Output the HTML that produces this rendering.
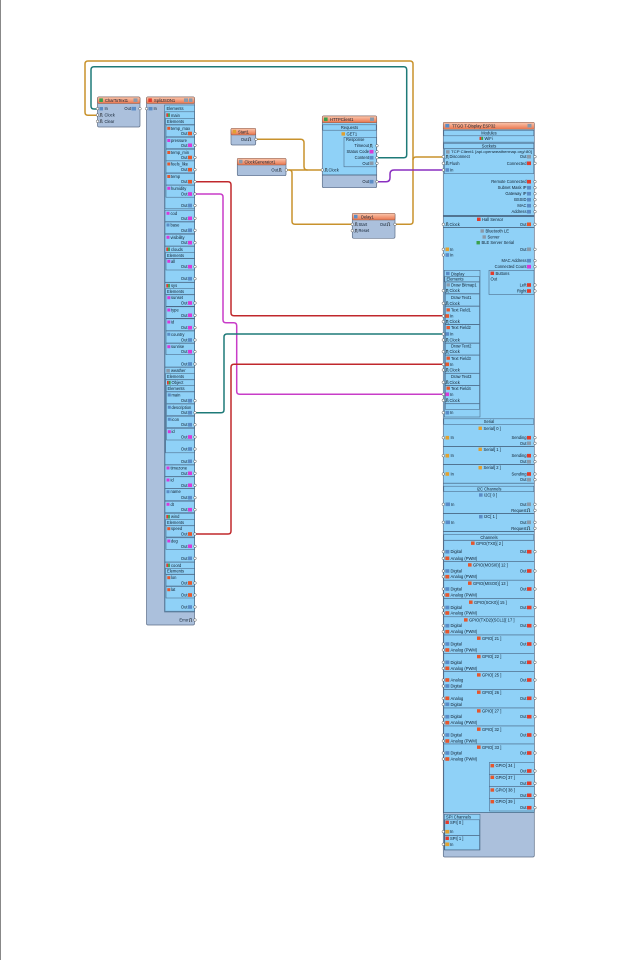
<!DOCTYPE html>
<html><head><meta charset="utf-8">
<style>
html,body{margin:0;padding:0;background:#fff;width:632px;height:960px;overflow:hidden}
svg{display:block}
text{font-family:"Liberation Sans",sans-serif;font-size:4.1px;fill:#0f1e2e}
.r{text-anchor:end}.c{text-anchor:middle}
.b{fill:#abc0dc;stroke:#5d6e88;stroke-width:.7}
.h{fill:url(#hd);stroke:#8a5c4c;stroke-width:.5}
.lb{fill:#8fd1f7;stroke:#4a6684;stroke-width:.55}
.p{fill:#fff;stroke:#444;stroke-width:.45}
.w{fill:none;stroke-width:1.5;stroke-linejoin:round}
.ia{fill:#e4572e}.ii{fill:#d83ad8}.it{fill:#5b8cc6}.ig{fill:#8a99aa}.ir{fill:#e23c2c}.io{fill:#3aa04a}.iy{fill:#e0a030}
.ck{fill:none;stroke:#111;stroke-width:.45}
.ln{stroke:#3d5570;stroke-width:.7}
</style></head><body>
<svg width="632" height="960" viewBox="0 0 632 960" xmlns="http://www.w3.org/2000/svg">
<defs>
<linearGradient id="hd" x1="0" y1="0" x2="0" y2="1"><stop offset="0" stop-color="#fbc9b0"/><stop offset="1" stop-color="#e9744c"/></linearGradient>
</defs>
<rect x="0" y="0" width="632" height="960" fill="#fff"/>
<line x1="0.5" y1="0" x2="0.5" y2="960" stroke="#888" stroke-width="1"/>

<!-- WIRES -->
<path class="w" stroke="#c8922c" d="M396 224.3 H410 Q413 224.3 413 221.3 V64 Q413 61 410 61 H88 Q85 61 85 64 V112.3 Q85 115.3 88 115.3 H97"/>
<path class="w" stroke="#c8922c" d="M413 160 Q413 157 416 157 H443"/>
<path class="w" stroke="#1e7a78" d="M377 157.7 H403.7 Q406.7 157.7 406.7 154.7 V69.7 Q406.7 66.7 403.7 66.7 H94 Q91 66.7 91 69.7 V106 Q91 109 94 109 H97"/>
<path class="w" stroke="#8a2fc0" d="M377 181.7 H386 Q390 181.7 390 177.7 V174 Q390 170 394 170 H443"/>
<path class="w" stroke="#c8922c" d="M256 139.3 H300.5 Q304 139.3 304 142.8 V166.5 Q304 170 307.5 170"/>
<path class="w" stroke="#c8922c" d="M286 170 H322"/>
<path class="w" stroke="#c8922c" d="M289 170 Q292 170 292 173 V221.3 Q292 224.3 295 224.3 H352"/>
<path class="w" stroke="#c0282c" d="M195 181.7 H228 Q231 181.7 231 184.7 V312.7 Q231 315.7 234 315.7 H443"/>
<path class="w" stroke="#c83cc8" d="M195 194 H220 Q223 194 223 197 V319.7 Q223 322.7 226 322.7 H233.7 Q236.7 322.7 236.7 325.7 V391.3 Q236.7 394.3 239.7 394.3 H443"/>
<path class="w" stroke="#1e7a78" d="M195 412.7 H221 Q224 412.7 224 409.7 V337 Q224 334 227 334 H443"/>
<path class="w" stroke="#c0282c" d="M195 534 H228 Q231 534 231 531 V367.3 Q231 364.3 234 364.3 H443"/>

<!-- CharToText1 -->
<rect class="b" x="97.5" y="97" width="42.5" height="30" rx="1.5"/>
<rect class="h" x="97.5" y="97" width="42.5" height="6.5" rx="1"/>
<rect class="io" x="99.3" y="98.4" width="3.6" height="3.6"/>
<text x="105" y="101.9">CharToText1</text>
<rect class="ig" x="133.5" y="98.4" width="4" height="3.6"/>
<rect class="it" x="99.5" y="107" width="3.5" height="3.4"/><text x="104.5" y="110.2">In</text>
<path class="ck" d="M99.5 116.5h.8v-3h1.6v3h.8"/><text x="104.5" y="116.5">Clock</text>
<path class="ck" d="M99.5 122.8h.8v-3h1.6v3h.8"/><text x="104.5" y="122.8">Clear</text>
<text class="r" x="131" y="110.2">Out</text><rect class="it" x="131.5" y="106.9" width="4.5" height="3.6"/>
<circle class="p" cx="97.5" cy="108.7" r="1.3"/><circle class="p" cx="97.5" cy="115" r="1.3"/><circle class="p" cx="97.5" cy="121.3" r="1.3"/><circle class="p" cx="140" cy="108.7" r="1.3"/>

<!-- SplitJSON1 -->
<rect class="b" x="146.5" y="97" width="48" height="528" rx="1.5"/>
<rect class="h" x="146.5" y="97" width="48" height="6.5" rx="1"/>
<rect class="ir" x="148.3" y="98.4" width="3.6" height="3.6"/>
<text x="154" y="101.9">SplitJSON1</text>
<rect class="ig" x="184" y="98.4" width="4" height="3.6"/><rect class="ig" x="189" y="98.4" width="3.5" height="3.6"/>
<rect class="it" x="148.5" y="107" width="4" height="3.4"/><text x="153.5" y="110.2">In</text>
<circle class="p" cx="146.5" cy="108.7" r="1.3"/>
<rect class="lb" x="164.5" y="105" width="30" height="507"/>
<text x="166.5" y="109.8">Elements</text>

<!-- main group -->
<rect class="lb" x="165" y="111.8" width="29.5" height="97"/>
<rect class="ir" x="166.3" y="113.3" width="1.8" height="3.6"/><rect class="io" x="168.1" y="113.3" width="1.8" height="3.6"/>
<text x="171" y="116.8">main</text>
<rect class="lb" x="165.5" y="118.5" width="29" height="6"/><text x="167" y="122.9">Elements</text>

<rect class="lb" x="166" y="125" width="28.5" height="11.8"/><rect class="ia" x="167.3" y="126.8" width="3" height="3"/><text x="171" y="129.8">temp_max</text><text class="r" x="187.5" y="135">Out</text><rect class="ia" x="188" y="131.7" width="4" height="3.6"/><circle class="p" cx="195" cy="133.5" r="1.3"/>
<rect class="lb" x="166" y="137.2" width="28.5" height="11.4"/><rect class="ii" x="167.3" y="139" width="3" height="3"/><text x="171" y="142">pressure</text><text class="r" x="187.5" y="146.8">Out</text><rect class="ii" x="188" y="143.5" width="4" height="3.6"/><circle class="p" cx="195" cy="145.3" r="1.3"/>
<rect class="lb" x="166" y="149.2" width="28.5" height="11.6"/><rect class="ia" x="167.3" y="151" width="3" height="3"/><text x="171" y="154">temp_min</text><text class="r" x="187.5" y="159">Out</text><rect class="ia" x="188" y="155.7" width="4" height="3.6"/><circle class="p" cx="195" cy="157.5" r="1.3"/>
<rect class="lb" x="166" y="160.9" width="28.5" height="12"/><rect class="ia" x="167.3" y="162.5" width="3" height="3"/><text x="171" y="165.5">feels_like</text><text class="r" x="187.5" y="171.2">Out</text><rect class="ia" x="188" y="167.9" width="4" height="3.6"/><circle class="p" cx="195" cy="169.7" r="1.3"/>
<rect class="lb" x="166" y="173.3" width="28.5" height="11.7"/><rect class="ia" x="167.3" y="175" width="3" height="3"/><text x="171" y="178">temp</text><text class="r" x="187.5" y="183.2">Out</text><rect class="ia" x="188" y="179.9" width="4" height="3.6"/><circle class="p" cx="195" cy="181.7" r="1.3"/>
<rect class="lb" x="166" y="185.2" width="28.5" height="12"/><rect class="ii" x="167.3" y="186.8" width="3" height="3"/><text x="171" y="189.8">humidity</text><text class="r" x="187.5" y="195.5">Out</text><rect class="ii" x="188" y="192.2" width="4" height="3.6"/><circle class="p" cx="195" cy="194" r="1.3"/>
<text class="r" x="187.5" y="207">Out</text><rect class="it" x="188" y="203.7" width="4" height="3.6"/><circle class="p" cx="195" cy="205.5" r="1.3"/>

<rect class="lb" x="165" y="210.2" width="29.5" height="11.4"/><rect class="ii" x="166.5" y="211.8" width="3" height="3"/><text x="170.5" y="214.8">cod</text><text class="r" x="187.5" y="219.8">Out</text><rect class="ii" x="188" y="216.5" width="4" height="3.6"/><circle class="p" cx="195" cy="218.3" r="1.3"/>
<rect class="lb" x="165" y="222" width="29.5" height="11.6"/><rect class="it" x="166.5" y="223.5" width="3" height="3"/><text x="170.5" y="226.5">base</text><text class="r" x="187.5" y="231.8">Out</text><rect class="it" x="188" y="228.5" width="4" height="3.6"/><circle class="p" cx="195" cy="230.3" r="1.3"/>
<rect class="lb" x="165" y="234.2" width="29.5" height="11.8"/><rect class="ii" x="166.5" y="235.8" width="3" height="3"/><text x="170.5" y="238.8">visibility</text><text class="r" x="187.5" y="244.2">Out</text><rect class="ii" x="188" y="240.9" width="4" height="3.6"/><circle class="p" cx="195" cy="242.7" r="1.3"/>

<!-- clouds -->
<rect class="lb" x="165" y="246.3" width="29.5" height="35.9"/>
<rect class="ir" x="166.3" y="247.5" width="1.8" height="3.6"/><rect class="io" x="168.1" y="247.5" width="1.8" height="3.6"/><text x="171" y="250.8">clouds</text>
<rect class="lb" x="165.5" y="252.5" width="29" height="5.8"/><text x="167" y="256.8">Elements</text>
<rect class="lb" x="166" y="258.6" width="28.5" height="11.4"/><rect class="ii" x="167.3" y="259.8" width="3" height="3"/><text x="171" y="262.8">all</text><text class="r" x="187.5" y="268.2">Out</text><rect class="ii" x="188" y="264.9" width="4" height="3.6"/><circle class="p" cx="195" cy="266.7" r="1.3"/>
<text class="r" x="187.5" y="280.2">Out</text><rect class="it" x="188" y="276.9" width="4" height="3.6"/><circle class="p" cx="195" cy="278.7" r="1.3"/>

<!-- sys -->
<rect class="lb" x="165" y="282.5" width="29.5" height="84.5"/>
<rect class="ir" x="166.3" y="283.9" width="1.8" height="3.6"/><rect class="io" x="168.1" y="283.9" width="1.8" height="3.6"/><text x="171" y="287.2">sys</text>
<rect class="lb" x="165.5" y="288.7" width="29" height="5.8"/><text x="167" y="293">Elements</text>
<rect class="lb" x="166" y="294.8" width="28.5" height="11.5"/><rect class="ii" x="167.3" y="296.2" width="3" height="3"/><text x="171" y="299.2">sunset</text><text class="r" x="187.5" y="304.5">Out</text><rect class="ii" x="188" y="301.2" width="4" height="3.6"/><circle class="p" cx="195" cy="303" r="1.3"/>
<rect class="lb" x="166" y="306.8" width="28.5" height="11.5"/><rect class="ii" x="167.3" y="308.5" width="3" height="3"/><text x="171" y="311.5">type</text><text class="r" x="187.5" y="316.8">Out</text><rect class="ii" x="188" y="313.5" width="4" height="3.6"/><circle class="p" cx="195" cy="315.3" r="1.3"/>
<rect class="lb" x="166" y="318.8" width="28.5" height="11.9"/><rect class="ii" x="167.3" y="320.5" width="3" height="3"/><text x="171" y="323.5">id</text><text class="r" x="187.5" y="329.2">Out</text><rect class="ii" x="188" y="325.9" width="4" height="3.6"/><circle class="p" cx="195" cy="327.7" r="1.3"/>
<rect class="lb" x="166" y="331" width="28.5" height="12"/><rect class="it" x="167.3" y="332.8" width="3" height="3"/><text x="171" y="335.8">country</text><text class="r" x="187.5" y="341.5">Out</text><rect class="it" x="188" y="338.2" width="4" height="3.6"/><circle class="p" cx="195" cy="340" r="1.3"/>
<rect class="lb" x="166" y="343.4" width="28.5" height="11.3"/><rect class="ii" x="167.3" y="345.2" width="3" height="3"/><text x="171" y="348.2">sunrise</text><text class="r" x="187.5" y="353.2">Out</text><rect class="ii" x="188" y="349.9" width="4" height="3.6"/><circle class="p" cx="195" cy="351.7" r="1.3"/>
<text class="r" x="187.5" y="365.5">Out</text><rect class="it" x="188" y="362.2" width="4" height="3.6"/><circle class="p" cx="195" cy="364" r="1.3"/>

<!-- weather -->
<rect class="lb" x="165" y="367.3" width="29.5" height="97.4"/>
<rect class="ig" x="166.3" y="368.9" width="3.6" height="3.6"/><text x="171" y="372.2">weather</text>
<rect class="lb" x="165.5" y="373.7" width="29" height="5.9"/><text x="167" y="378">Elements</text>
<rect class="lb" x="165.7" y="379.8" width="28.8" height="73"/>
<rect class="ir" x="167" y="380.9" width="1.8" height="3.6"/><rect class="io" x="168.8" y="380.9" width="1.8" height="3.6"/><text x="171.5" y="384.2">Object</text>
<rect class="lb" x="166.2" y="385.7" width="28.3" height="5.9"/><text x="167.5" y="390">Elements</text>
<rect class="lb" x="166.5" y="391.9" width="28" height="11.8"/><rect class="it" x="167.8" y="393.5" width="3" height="3"/><text x="171.5" y="396.5">main</text><text class="r" x="187.5" y="402.2">Out</text><rect class="it" x="188" y="398.9" width="4" height="3.6"/><circle class="p" cx="195" cy="400.7" r="1.3"/>
<rect class="lb" x="166.5" y="404" width="28" height="11.7"/><rect class="it" x="167.8" y="405.8" width="3" height="3"/><text x="171.5" y="408.8">description</text><text class="r" x="187.5" y="414.2">Out</text><rect class="it" x="188" y="410.9" width="4" height="3.6"/><circle class="p" cx="195" cy="412.7" r="1.3"/>
<rect class="lb" x="166.5" y="416.2" width="28" height="11.5"/><rect class="it" x="167.8" y="417.8" width="3" height="3"/><text x="171.5" y="420.8">icon</text><text class="r" x="187.5" y="426.2">Out</text><rect class="it" x="188" y="422.9" width="4" height="3.6"/><circle class="p" cx="195" cy="424.7" r="1.3"/>
<rect class="lb" x="166.5" y="428.3" width="28" height="11.7"/><rect class="ii" x="167.8" y="430.2" width="3" height="3"/><text x="171.5" y="433.2">id</text><text class="r" x="187.5" y="438.5">Out</text><rect class="ii" x="188" y="435.2" width="4" height="3.6"/><circle class="p" cx="195" cy="437" r="1.3"/>
<text class="r" x="187.5" y="450.5">Out</text><rect class="it" x="188" y="447.2" width="4" height="3.6"/><circle class="p" cx="195" cy="449" r="1.3"/>
<text class="r" x="187.5" y="462.8">Out</text><rect class="it" x="188" y="459.5" width="4" height="3.6"/><circle class="p" cx="195" cy="461.3" r="1.3"/>

<rect class="lb" x="165" y="465" width="29.5" height="11.5"/><rect class="ii" x="166.5" y="466.5" width="3" height="3"/><text x="170.5" y="469.5">timezone</text><text class="r" x="187.5" y="474.8">Out</text><rect class="ii" x="188" y="471.5" width="4" height="3.6"/><circle class="p" cx="195" cy="473.3" r="1.3"/>
<rect class="lb" x="165" y="476.8" width="29.5" height="11.7"/><rect class="ii" x="166.5" y="478.5" width="3" height="3"/><text x="170.5" y="481.5">id</text><text class="r" x="187.5" y="486.8">Out</text><rect class="ii" x="188" y="483.5" width="4" height="3.6"/><circle class="p" cx="195" cy="485.3" r="1.3"/>
<rect class="lb" x="165" y="488.7" width="29.5" height="12"/><rect class="it" x="166.5" y="490.2" width="3" height="3"/><text x="170.5" y="493.2">name</text><text class="r" x="187.5" y="499.2">Out</text><rect class="it" x="188" y="495.9" width="4" height="3.6"/><circle class="p" cx="195" cy="497.7" r="1.3"/>
<rect class="lb" x="165" y="501.2" width="29.5" height="11.5"/><rect class="ii" x="166.5" y="502.8" width="3" height="3"/><text x="170.5" y="505.8">dt</text><text class="r" x="187.5" y="511.2">Out</text><rect class="ii" x="188" y="507.9" width="4" height="3.6"/><circle class="p" cx="195" cy="509.7" r="1.3"/>

<!-- wind -->
<rect class="lb" x="165" y="513.4" width="29.5" height="48.6"/>
<rect class="ir" x="166.3" y="514.9" width="1.8" height="3.6"/><rect class="io" x="168.1" y="514.9" width="1.8" height="3.6"/><text x="171" y="518.2">wind</text>
<rect class="lb" x="165.5" y="519.7" width="29" height="5.9"/><text x="167" y="524">Elements</text>
<rect class="lb" x="166" y="525.8" width="28.5" height="11.2"/><rect class="ia" x="167.3" y="527.2" width="3" height="3"/><text x="171" y="530.2">speed</text><text class="r" x="187.5" y="535.5">Out</text><rect class="ia" x="188" y="532.2" width="4" height="3.6"/><circle class="p" cx="195" cy="534" r="1.3"/>
<rect class="lb" x="166" y="537.8" width="28.5" height="11.5"/><rect class="ii" x="167.3" y="539.5" width="3" height="3"/><text x="171" y="542.5">deg</text><text class="r" x="187.5" y="547.8">Out</text><rect class="ii" x="188" y="544.5" width="4" height="3.6"/><circle class="p" cx="195" cy="546.3" r="1.3"/>
<text class="r" x="187.5" y="559.8">Out</text><rect class="it" x="188" y="556.5" width="4" height="3.6"/><circle class="p" cx="195" cy="558.3" r="1.3"/>

<!-- coord -->
<rect class="lb" x="165" y="562.2" width="29.5" height="49"/>
<rect class="ir" x="166.3" y="563.5" width="1.8" height="3.6"/><rect class="io" x="168.1" y="563.5" width="1.8" height="3.6"/><text x="171" y="566.8">coord</text>
<rect class="lb" x="165.5" y="568.3" width="29" height="5.9"/><text x="167" y="572.6">Elements</text>
<rect class="lb" x="166" y="574.5" width="28.5" height="11.5"/><rect class="ia" x="167.3" y="576.2" width="3" height="3"/><text x="171" y="579.2">lon</text><text class="r" x="187.5" y="584.5">Out</text><rect class="ia" x="188" y="581.2" width="4" height="3.6"/><circle class="p" cx="195" cy="583" r="1.3"/>
<rect class="lb" x="166" y="586.5" width="28.5" height="11.5"/><rect class="ia" x="167.3" y="588.2" width="3" height="3"/><text x="171" y="591.2">lat</text><text class="r" x="187.5" y="596.5">Out</text><rect class="ia" x="188" y="593.2" width="4" height="3.6"/><circle class="p" cx="195" cy="595" r="1.3"/>
<text class="r" x="187.5" y="608.5">Out</text><rect class="it" x="188" y="605.2" width="4" height="3.6"/><circle class="p" cx="195" cy="607" r="1.3"/>

<text class="r" x="188.5" y="621.5">Error</text><path class="ck" d="M189 621.5h.8v-3h1.6v3h.8"/><circle class="p" cx="195" cy="620" r="1.3"/>

<!-- Start1 -->
<rect class="b" x="231" y="128.3" width="24.7" height="16.7" rx="1.5"/>
<rect class="h" x="231" y="128.3" width="24.7" height="6.7" rx="1"/>
<rect class="iy" x="232.7" y="129.8" width="3.5" height="3.6"/>
<text x="238" y="133.3">Start1</text>
<text class="r" x="247.5" y="140.8">Out</text><path class="ck" d="M248 140.8h.8v-3h1.6v3h.8"/><circle class="p" cx="256" cy="139.3" r="1.3"/>

<!-- ClockGenerator1 -->
<rect class="b" x="237.3" y="158.3" width="48.7" height="17.4" rx="1.5"/>
<rect class="h" x="237.3" y="158.3" width="48.7" height="6.7" rx="1"/>
<rect class="ig" x="239" y="159.8" width="3.5" height="3.6"/>
<text x="244.5" y="163.3">ClockGenerator1</text>
<text class="r" x="278" y="171.5">Out</text><path class="ck" d="M278.5 171.5h.8v-3h1.6v3h.8"/><circle class="p" cx="286.3" cy="170" r="1.3"/>

<!-- HTTPClient1 -->
<rect class="b" x="322.3" y="116" width="54.4" height="71.7" rx="1.5"/>
<rect fill="#8fd1f7" x="322.8" y="122.7" width="53.4" height="52.3"/>
<line class="ln" x1="322.3" y1="175" x2="376.7" y2="175"/>
<rect class="h" x="322.3" y="116" width="54.4" height="6.7" rx="1"/>
<rect class="io" x="324" y="117.5" width="3.6" height="3.6"/>
<text x="330" y="120.9">HTTPClient1</text>
<rect class="ig" x="370" y="117.5" width="4" height="3.6"/>
<rect class="lb" x="322.8" y="124.8" width="53.4" height="5.4"/><text class="c" x="349.5" y="128.9">Requests</text>
<rect class="iy" x="341.5" y="132.2" width="3.5" height="3.4"/><text x="346.5" y="135.5">GET1</text>
<rect class="lb" x="344" y="137.3" width="32.5" height="29.5"/>
<text x="346" y="141">Response</text>
<text class="r" x="369" y="147.2">Timeout</text><path class="ck" d="M369.5 147.2h.8v-3h1.6v3h.8"/><circle class="p" cx="377" cy="145.7" r="1.3"/>
<text class="r" x="369" y="153.2">Status Code</text><rect class="ii" x="369.5" y="149.9" width="4" height="3.6"/><circle class="p" cx="377" cy="151.7" r="1.3"/>
<text class="r" x="369" y="159.2">Content</text><rect class="it" x="369.5" y="155.9" width="4" height="3.6"/><circle class="p" cx="377" cy="157.7" r="1.3"/>
<text class="r" x="369" y="164.8">Out</text><rect class="ig" x="369.5" y="161.5" width="4" height="3.6"/><circle class="p" cx="377" cy="163.3" r="1.3"/>
<path class="ck" d="M324.5 171.5h.8v-3h1.6v3h.8"/><text x="328.5" y="171.5">Clock</text><circle class="p" cx="322.3" cy="170" r="1.3"/>
<text class="r" x="369" y="183.2">Out</text><rect class="it" x="369.5" y="179.9" width="4" height="3.6"/><circle class="p" cx="377" cy="181.7" r="1.3"/>

<!-- Delay1 -->
<rect class="b" x="352.3" y="213.3" width="42.7" height="25" rx="1.5"/>
<rect class="h" x="352.3" y="213.3" width="42.7" height="6.7" rx="1"/>
<rect class="it" x="354" y="214.8" width="3.5" height="3.6"/>
<text x="361" y="218.3">Delay1</text>
<path class="ck" d="M354.5 225.8h.8v-3h1.6v3h.8"/><text x="358.5" y="225.8">Start</text><circle class="p" cx="352.3" cy="224.3" r="1.3"/>
<path class="ck" d="M354.5 232.2h.8v-3h1.6v3h.8"/><text x="358.5" y="232.2">Reset</text><circle class="p" cx="352.3" cy="230.7" r="1.3"/>
<text class="r" x="386.5" y="225.8">Out</text><path class="ck" d="M387 225.8h.8v-3h1.6v3h.8"/><circle class="p" cx="395" cy="224.3" r="1.3"/>

<!-- TTGO -->
<rect class="b" x="443.3" y="122.3" width="91" height="734.7" rx="1.5"/>
<rect fill="#8fd1f7" x="443.8" y="129.3" width="90" height="683.2"/>
<line class="ln" x1="443.3" y1="812.5" x2="534.3" y2="812.5"/>
<rect class="h" x="443.3" y="122.3" width="91" height="7" rx="1"/>
<rect class="it" x="445.3" y="123.9" width="4" height="3.6"/>
<text x="452" y="127.4">TTGO T-Display ESP32</text>
<rect class="ig" x="527.5" y="123.9" width="4" height="3.6"/>

<rect class="lb" x="443.8" y="130.3" width="90" height="5.5"/><text class="c" x="489" y="134.4">Modules</text>
<rect class="ir" x="479.5" y="136.8" width="1.8" height="3.2"/><rect class="io" x="481.3" y="136.8" width="1.8" height="3.2"/><text x="484.5" y="140">WiFi</text>
<line class="ln" x1="443.3" y1="142.2" x2="534.3" y2="142.2"/>
<rect class="lb" x="443.8" y="143.3" width="90" height="5.3"/><text class="c" x="489" y="147.4">Sockets</text>
<rect class="lb" x="444.3" y="148.8" width="89.5" height="24.8"/>
<rect class="ig" x="446" y="150.2" width="3.6" height="3.4"/>
<text x="451" y="153.2" style="font-size:3.9px" textLength="81" lengthAdjust="spacingAndGlyphs">TCP Client1 [api.openweathermap.org/:80]</text>
<path class="ck" d="M445.5 158.2h.8v-3h1.6v3h.8"/><text x="449.5" y="158.2">Disconnect</text><circle class="p" cx="443.3" cy="156.7" r="1.3"/>
<text class="r" x="526.5" y="158.2">Out</text><rect class="ig" x="527" y="154.9" width="4" height="3.6"/><circle class="p" cx="535" cy="156.7" r="1.3"/>
<path class="ck" d="M445.5 164.8h.8v-3h1.6v3h.8"/><text x="449.5" y="164.8">Flush</text><circle class="p" cx="443.3" cy="163.3" r="1.3"/>
<text class="r" x="526.5" y="164.8">Connected</text><rect class="ir" x="527" y="161.5" width="4" height="3.6"/><circle class="p" cx="535" cy="163.3" r="1.3"/>
<rect class="it" x="445.5" y="168.2" width="3.6" height="3.6"/><text x="450" y="171.5">In</text><circle class="p" cx="443.3" cy="170" r="1.3"/>

<text class="r" x="526.5" y="183.2">Remote Connected</text><rect class="ir" x="527" y="179.9" width="4" height="3.6"/><circle class="p" cx="535" cy="181.7" r="1.3"/>
<text class="r" x="526.5" y="189.2">Subnet Mask IP</text><rect class="it" x="527" y="185.9" width="4" height="3.6"/><circle class="p" cx="535" cy="187.7" r="1.3"/>
<text class="r" x="526.5" y="195.2">Gateway IP</text><rect class="it" x="527" y="191.9" width="4" height="3.6"/><circle class="p" cx="535" cy="193.7" r="1.3"/>
<text class="r" x="526.5" y="201.2">BSSID</text><rect class="it" x="527" y="197.9" width="4" height="3.6"/><circle class="p" cx="535" cy="199.7" r="1.3"/>
<text class="r" x="526.5" y="207.2">MAC</text><rect class="it" x="527" y="203.9" width="4" height="3.6"/><circle class="p" cx="535" cy="205.7" r="1.3"/>
<text class="r" x="526.5" y="213.2">Address</text><rect class="it" x="527" y="209.9" width="4" height="3.6"/><circle class="p" cx="535" cy="211.7" r="1.3"/>
<line class="ln" x1="443.3" y1="215.4" x2="534.3" y2="215.4"/><line class="ln" x1="443.3" y1="216.6" x2="534.3" y2="216.6"/>
<rect class="ir" x="477" y="217.6" width="3.6" height="3.4"/><text x="482" y="220.8">Hall Sensor</text>
<path class="ck" d="M445.5 225.8h.8v-3h1.6v3h.8"/><text x="449.5" y="225.8">Clock</text><circle class="p" cx="443.3" cy="224.3" r="1.3"/>
<text class="r" x="526.5" y="225.8">Out</text><rect class="ia" x="527" y="222.5" width="4" height="3.6"/><circle class="p" cx="535" cy="224.3" r="1.3"/>
<line class="ln" x1="443.3" y1="227.6" x2="534.3" y2="227.6"/>
<rect class="ig" x="480.5" y="229.3" width="3.4" height="3.4"/><text x="485.5" y="232.5">Bluetooth LE</text>
<rect class="ig" x="482.5" y="235.3" width="3.4" height="3.4"/><text x="487.5" y="238.5">Server</text>
<rect class="io" x="476.5" y="241" width="3.4" height="3.4"/><text x="481.5" y="244.2">BLE Server Serial</text>
<rect class="iy" x="445.5" y="247.5" width="3.6" height="3.6"/><text x="450" y="250.8">In</text><circle class="p" cx="443.3" cy="249.3" r="1.3"/>
<text class="r" x="526.5" y="250.8">Out</text><rect class="ig" x="527" y="247.5" width="4" height="3.6"/><circle class="p" cx="535" cy="249.3" r="1.3"/>
<rect class="it" x="445.5" y="253.2" width="3.6" height="3.6"/><text x="450" y="256.5">In</text><circle class="p" cx="443.3" cy="255" r="1.3"/>
<text class="r" x="526.5" y="262.2">MAC Address</text><rect class="it" x="527" y="258.9" width="4" height="3.6"/><circle class="p" cx="535" cy="260.7" r="1.3"/>
<text class="r" x="526.5" y="268.2">Connected Count</text><rect class="ii" x="527" y="264.9" width="4" height="3.6"/><circle class="p" cx="535" cy="266.7" r="1.3"/>

<!-- Display box -->
<rect class="lb" x="444.3" y="270.3" width="35.7" height="146.7"/>
<rect class="it" x="446" y="271.8" width="3.6" height="3.4"/><text x="451" y="275.5">Display</text>
<rect class="lb" x="444.8" y="276.6" width="34.7" height="5.2"/><text x="446.5" y="280.5">Elements</text>
<rect class="lb" x="445.3" y="282" width="34.2" height="11.6"/><rect class="ig" x="446.5" y="283.3" width="3.4" height="3.2"/><text x="451" y="286.5">Draw Bitmap1</text>
<path class="ck" d="M445.5 292.2h.8v-3h1.6v3h.8"/><text x="449.5" y="292.2">Clock</text><circle class="p" cx="443.3" cy="290.7" r="1.3"/>
<rect class="lb" x="445.3" y="294" width="34.2" height="12"/><text x="451" y="299.2">Draw Text1</text>
<path class="ck" d="M445.5 304.8h.8v-3h1.6v3h.8"/><text x="449.5" y="304.8">Clock</text><circle class="p" cx="443.3" cy="303.3" r="1.3"/>
<rect class="lb" x="445.3" y="306.3" width="34.2" height="18"/><rect class="ia" x="446.5" y="308.3" width="3.4" height="3.2"/><text x="451" y="311.5">Text Field1</text>
<rect class="ia" x="445.5" y="314.2" width="3.6" height="3.6"/><text x="450" y="317.5">In</text><circle class="p" cx="443.3" cy="316" r="1.3"/>
<path class="ck" d="M445.5 323.2h.8v-3h1.6v3h.8"/><text x="449.5" y="323.2">Clock</text><circle class="p" cx="443.3" cy="321.7" r="1.3"/>
<rect class="lb" x="445.3" y="324.6" width="34.2" height="18.4"/><rect class="ia" x="446.5" y="326" width="3.4" height="3.2"/><text x="451" y="329.2">Text Field2</text>
<rect class="it" x="445.5" y="332.2" width="3.6" height="3.6"/><text x="450" y="335.5">In</text><circle class="p" cx="443.3" cy="334" r="1.3"/>
<path class="ck" d="M445.5 341.5h.8v-3h1.6v3h.8"/><text x="449.5" y="341.5">Clock</text><circle class="p" cx="443.3" cy="340" r="1.3"/>
<rect class="lb" x="445.3" y="343.3" width="34.2" height="11.7"/><text x="451" y="347.5">Draw Text2</text>
<path class="ck" d="M445.5 353.2h.8v-3h1.6v3h.8"/><text x="449.5" y="353.2">Clock</text><circle class="p" cx="443.3" cy="351.7" r="1.3"/>
<rect class="lb" x="445.3" y="355.2" width="34.2" height="18"/><rect class="ia" x="446.5" y="356.6" width="3.4" height="3.2"/><text x="451" y="359.8">Text Field3</text>
<rect class="ia" x="445.5" y="362.5" width="3.6" height="3.6"/><text x="450" y="365.8">In</text><circle class="p" cx="443.3" cy="364.3" r="1.3"/>
<path class="ck" d="M445.5 371.5h.8v-3h1.6v3h.8"/><text x="449.5" y="371.5">Clock</text><circle class="p" cx="443.3" cy="370" r="1.3"/>
<rect class="lb" x="445.3" y="373.4" width="34.2" height="12"/><text x="451" y="378.2">Draw Text3</text>
<path class="ck" d="M445.5 383.8h.8v-3h1.6v3h.8"/><text x="449.5" y="383.8">Clock</text><circle class="p" cx="443.3" cy="382.3" r="1.3"/>
<rect class="lb" x="445.3" y="385.6" width="34.2" height="18"/><rect class="ia" x="446.5" y="386.6" width="3.4" height="3.2"/><text x="451" y="389.8">Text Field4</text>
<rect class="ii" x="445.5" y="392.5" width="3.6" height="3.6"/><text x="450" y="395.8">In</text><circle class="p" cx="443.3" cy="394.3" r="1.3"/>
<path class="ck" d="M445.5 401.8h.8v-3h1.6v3h.8"/><text x="449.5" y="401.8">Clock</text><circle class="p" cx="443.3" cy="400.3" r="1.3"/>
<rect class="lb" x="445.3" y="403.8" width="34.2" height="5.5"/>
<rect class="it" x="445.5" y="410.9" width="3.6" height="3.6"/><text x="450" y="414.2">In</text><circle class="p" cx="443.3" cy="412.7" r="1.3"/>

<!-- Buttons box -->
<rect class="lb" x="489" y="270.3" width="45" height="24.2"/>
<rect class="ir" x="490.5" y="271.6" width="3.6" height="3.4"/><text x="495.5" y="274.8">Buttons</text>
<text x="490.5" y="280.5">Out</text>
<text class="r" x="526.5" y="286.5">Left</text><rect class="ir" x="527" y="283.2" width="4" height="3.6"/><circle class="p" cx="535" cy="285" r="1.3"/>
<text class="r" x="526.5" y="292.5">Right</text><rect class="ir" x="527" y="289.2" width="4" height="3.6"/><circle class="p" cx="535" cy="291" r="1.3"/>

<!-- Serial -->
<rect class="lb" x="443.8" y="418.8" width="90" height="5.5"/><text class="c" x="489" y="422.9">Serial</text>
<rect class="iy" x="478.5" y="426.6" width="3.4" height="3.4"/><text x="483.5" y="429.8">Serial[ 0 ]</text>
<rect class="iy" x="445.5" y="435.9" width="3.6" height="3.6"/><text x="450.5" y="439.2">In</text><circle class="p" cx="443.3" cy="437.7" r="1.3"/>
<text class="r" x="526.5" y="439.2">Sending</text><rect class="ir" x="527" y="435.9" width="4" height="3.6"/><circle class="p" cx="535" cy="437.7" r="1.3"/>
<text class="r" x="526.5" y="444.8">Out</text><rect class="ig" x="527" y="441.5" width="4" height="3.6"/><circle class="p" cx="535" cy="443.3" r="1.3"/>
<line class="ln" x1="443.3" y1="446.4" x2="534.3" y2="446.4"/>
<rect class="iy" x="478.5" y="447.6" width="3.4" height="3.4"/><text x="483.5" y="450.8">Serial[ 1 ]</text>
<rect class="iy" x="445.5" y="453.9" width="3.6" height="3.6"/><text x="450.5" y="457.2">In</text><circle class="p" cx="443.3" cy="455.7" r="1.3"/>
<text class="r" x="526.5" y="457.2">Sending</text><rect class="ir" x="527" y="453.9" width="4" height="3.6"/><circle class="p" cx="535" cy="455.7" r="1.3"/>
<text class="r" x="526.5" y="463.2">Out</text><rect class="ig" x="527" y="459.9" width="4" height="3.6"/><circle class="p" cx="535" cy="461.7" r="1.3"/>
<line class="ln" x1="443.3" y1="464.6" x2="534.3" y2="464.6"/>
<rect class="iy" x="478.5" y="466" width="3.4" height="3.4"/><text x="483.5" y="469.2">Serial[ 2 ]</text>
<rect class="iy" x="445.5" y="472.2" width="3.6" height="3.6"/><text x="450.5" y="475.5">In</text><circle class="p" cx="443.3" cy="474" r="1.3"/>
<text class="r" x="526.5" y="475.5">Sending</text><rect class="ir" x="527" y="472.2" width="4" height="3.6"/><circle class="p" cx="535" cy="474" r="1.3"/>
<text class="r" x="526.5" y="481.2">Out</text><rect class="ig" x="527" y="477.9" width="4" height="3.6"/><circle class="p" cx="535" cy="479.7" r="1.3"/>
<line class="ln" x1="443.3" y1="483.2" x2="534.3" y2="483.2"/>

<!-- I2C -->
<rect class="lb" x="443.8" y="486.2" width="90" height="5.4"/><text class="c" x="489" y="490.3">I2C Channels</text>
<rect class="it" x="479" y="493.3" width="3.6" height="3.4"/><text x="484" y="496.5">I2C[ 0 ]</text>
<rect class="it" x="445.5" y="502.5" width="4.5" height="3.6"/><text x="451" y="505.8">In</text><circle class="p" cx="443.3" cy="504.3" r="1.3"/>
<text class="r" x="526.5" y="505.8">Out</text><rect class="ig" x="527" y="502.5" width="4" height="3.6"/><circle class="p" cx="535" cy="504.3" r="1.3"/>
<text class="r" x="526.5" y="511.8">Request</text><path class="ck" d="M527 511.8h.8v-3h1.6v3h.8"/><circle class="p" cx="535" cy="510.3" r="1.3"/>
<line class="ln" x1="443.3" y1="513.6" x2="534.3" y2="513.6"/>
<rect class="it" x="479" y="515" width="3.6" height="3.4"/><text x="484" y="518.2">I2C[ 1 ]</text>
<rect class="it" x="445.5" y="520.5" width="4.5" height="3.6"/><text x="451" y="523.8">In</text><circle class="p" cx="443.3" cy="522.3" r="1.3"/>
<text class="r" x="526.5" y="523.8">Out</text><rect class="ig" x="527" y="520.5" width="4" height="3.6"/><circle class="p" cx="535" cy="522.3" r="1.3"/>
<text class="r" x="526.5" y="529.8">Request</text><path class="ck" d="M527 529.8h.8v-3h1.6v3h.8"/><circle class="p" cx="535" cy="528.3" r="1.3"/>
<line class="ln" x1="443.3" y1="531.6" x2="534.3" y2="531.6"/>

<!-- Channels -->
<rect class="lb" x="443.8" y="534.6" width="90" height="5.6"/><text class="c" x="489" y="538.8">Channels</text>

<rect class="lb" x="443.8" y="540.4" width="90.5" height="21.2"/><rect class="ia" x="471" y="541.5" width="3.6" height="3.4"/><text x="476" y="544.8">GPIO(TX0)[ 2 ]</text>
<rect class="it" x="445.3" y="549.9" width="4" height="3.6"/><text x="450.5" y="553.2">Digital</text><circle class="p" cx="443.3" cy="551.7" r="1.3"/>
<rect class="ia" x="445.3" y="556.5" width="4" height="3.6"/><text x="450.5" y="559.8">Analog (PWM)</text><circle class="p" cx="443.3" cy="558.3" r="1.3"/>
<text class="r" x="526.5" y="553.2">Out</text><rect class="ir" x="527" y="549.9" width="4.5" height="3.6"/><circle class="p" cx="535" cy="551.7" r="1.3"/>

<rect class="lb" x="443.8" y="561.6" width="90.5" height="18.6"/><rect class="ia" x="468" y="563.2" width="3.6" height="3.4"/><text x="473" y="566.5">GPIO(MOSI0)[ 12 ]</text>
<rect class="it" x="445.3" y="569.2" width="4" height="3.6"/><text x="450.5" y="572.5">Digital</text><circle class="p" cx="443.3" cy="571" r="1.3"/>
<rect class="ia" x="445.3" y="574.9" width="4" height="3.6"/><text x="450.5" y="578.2">Analog (PWM)</text><circle class="p" cx="443.3" cy="576.7" r="1.3"/>
<text class="r" x="526.5" y="572.5">Out</text><rect class="ir" x="527" y="569.2" width="4.5" height="3.6"/><circle class="p" cx="535" cy="571" r="1.3"/>

<rect class="lb" x="443.8" y="580.2" width="90.5" height="18.4"/><rect class="ia" x="468" y="581.5" width="3.6" height="3.4"/><text x="473" y="584.8">GPIO(MISO0)[ 13 ]</text>
<rect class="it" x="445.3" y="587.2" width="4" height="3.6"/><text x="450.5" y="590.5">Digital</text><circle class="p" cx="443.3" cy="589" r="1.3"/>
<rect class="ia" x="445.3" y="593.2" width="4" height="3.6"/><text x="450.5" y="596.5">Analog (PWM)</text><circle class="p" cx="443.3" cy="595" r="1.3"/>
<text class="r" x="526.5" y="590.5">Out</text><rect class="ir" x="527" y="587.2" width="4.5" height="3.6"/><circle class="p" cx="535" cy="589" r="1.3"/>

<rect class="lb" x="443.8" y="598.6" width="90.5" height="18.2"/><rect class="ia" x="469" y="600.5" width="3.6" height="3.4"/><text x="474" y="603.8">GPIO(SCK0)[ 15 ]</text>
<rect class="it" x="445.3" y="605.7" width="4" height="3.6"/><text x="450.5" y="609">Digital</text><circle class="p" cx="443.3" cy="607.5" r="1.3"/>
<rect class="ia" x="445.3" y="611.2" width="4" height="3.6"/><text x="450.5" y="614.5">Analog (PWM)</text><circle class="p" cx="443.3" cy="613" r="1.3"/>
<text class="r" x="526.5" y="609">Out</text><rect class="ir" x="527" y="605.7" width="4.5" height="3.6"/><circle class="p" cx="535" cy="607.5" r="1.3"/>

<rect class="lb" x="443.8" y="616.8" width="90.5" height="18.2"/><rect class="ia" x="464" y="618.2" width="3.6" height="3.4"/><text x="469" y="621.5">GPIO(TXD2)(SCL1)[ 17 ]</text>
<rect class="it" x="445.3" y="623.9" width="4" height="3.6"/><text x="450.5" y="627.2">Digital</text><circle class="p" cx="443.3" cy="625.7" r="1.3"/>
<rect class="ia" x="445.3" y="629.9" width="4" height="3.6"/><text x="450.5" y="633.2">Analog (PWM)</text><circle class="p" cx="443.3" cy="631.7" r="1.3"/>
<text class="r" x="526.5" y="627.2">Out</text><rect class="ir" x="527" y="623.9" width="4.5" height="3.6"/><circle class="p" cx="535" cy="625.7" r="1.3"/>

<rect class="lb" x="443.8" y="635" width="90.5" height="18.4"/><rect class="ia" x="477" y="636.5" width="3.6" height="3.4"/><text x="482" y="639.8">GPIO[ 21 ]</text>
<rect class="it" x="445.3" y="642.2" width="4" height="3.6"/><text x="450.5" y="645.5">Digital</text><circle class="p" cx="443.3" cy="644" r="1.3"/>
<rect class="ia" x="445.3" y="648.2" width="4" height="3.6"/><text x="450.5" y="651.5">Analog (PWM)</text><circle class="p" cx="443.3" cy="650" r="1.3"/>
<text class="r" x="526.5" y="645.5">Out</text><rect class="ir" x="527" y="642.2" width="4.5" height="3.6"/><circle class="p" cx="535" cy="644" r="1.3"/>

<rect class="lb" x="443.8" y="653.4" width="90.5" height="18.2"/><rect class="ia" x="477" y="654.9" width="3.6" height="3.4"/><text x="482" y="658.2">GPIO[ 22 ]</text>
<rect class="it" x="445.3" y="660.5" width="4" height="3.6"/><text x="450.5" y="663.8">Digital</text><circle class="p" cx="443.3" cy="662.3" r="1.3"/>
<rect class="ia" x="445.3" y="666.5" width="4" height="3.6"/><text x="450.5" y="669.8">Analog (PWM)</text><circle class="p" cx="443.3" cy="668.3" r="1.3"/>
<text class="r" x="526.5" y="663.8">Out</text><rect class="ir" x="527" y="660.5" width="4.5" height="3.6"/><circle class="p" cx="535" cy="662.3" r="1.3"/>

<rect class="lb" x="443.8" y="671.6" width="90.5" height="18"/><rect class="ia" x="477" y="673.2" width="3.6" height="3.4"/><text x="482" y="676.5">GPIO[ 25 ]</text>
<rect class="ia" x="445.3" y="678.2" width="4" height="3.6"/><text x="450.5" y="681.5">Analog</text><circle class="p" cx="443.3" cy="680" r="1.3"/>
<rect class="it" x="445.3" y="684.2" width="4" height="3.6"/><text x="450.5" y="687.5">Digital</text><circle class="p" cx="443.3" cy="686" r="1.3"/>
<text class="r" x="526.5" y="681.5">Out</text><rect class="ir" x="527" y="678.2" width="4.5" height="3.6"/><circle class="p" cx="535" cy="680" r="1.3"/>

<rect class="lb" x="443.8" y="689.6" width="90.5" height="18.4"/><rect class="ia" x="477" y="690.5" width="3.6" height="3.4"/><text x="482" y="693.8">GPIO[ 26 ]</text>
<rect class="ia" x="445.3" y="696.5" width="4" height="3.6"/><text x="450.5" y="699.8">Analog</text><circle class="p" cx="443.3" cy="698.3" r="1.3"/>
<rect class="it" x="445.3" y="702.5" width="4" height="3.6"/><text x="450.5" y="705.8">Digital</text><circle class="p" cx="443.3" cy="704.3" r="1.3"/>
<text class="r" x="526.5" y="699.8">Out</text><rect class="ir" x="527" y="696.5" width="4.5" height="3.6"/><circle class="p" cx="535" cy="698.3" r="1.3"/>

<rect class="lb" x="443.8" y="708" width="90.5" height="18"/><rect class="ia" x="477" y="709.2" width="3.6" height="3.4"/><text x="482" y="712.5">GPIO[ 27 ]</text>
<rect class="it" x="445.3" y="714.9" width="4" height="3.6"/><text x="450.5" y="718.2">Digital</text><circle class="p" cx="443.3" cy="716.7" r="1.3"/>
<rect class="ia" x="445.3" y="720.9" width="4" height="3.6"/><text x="450.5" y="724.2">Analog (PWM)</text><circle class="p" cx="443.3" cy="722.7" r="1.3"/>
<text class="r" x="526.5" y="718.2">Out</text><rect class="ir" x="527" y="714.9" width="4.5" height="3.6"/><circle class="p" cx="535" cy="716.7" r="1.3"/>

<rect class="lb" x="443.8" y="726" width="90.5" height="18"/><rect class="ia" x="477" y="727.5" width="3.6" height="3.4"/><text x="482" y="730.8">GPIO[ 32 ]</text>
<rect class="it" x="445.3" y="733.2" width="4" height="3.6"/><text x="450.5" y="736.5">Digital</text><circle class="p" cx="443.3" cy="735" r="1.3"/>
<rect class="ia" x="445.3" y="739.2" width="4" height="3.6"/><text x="450.5" y="742.5">Analog (PWM)</text><circle class="p" cx="443.3" cy="741" r="1.3"/>
<text class="r" x="526.5" y="736.5">Out</text><rect class="ir" x="527" y="733.2" width="4.5" height="3.6"/><circle class="p" cx="535" cy="735" r="1.3"/>

<rect class="lb" x="443.8" y="744" width="90.5" height="68.5"/><rect class="ia" x="477" y="745.5" width="3.6" height="3.4"/><text x="482" y="748.8">GPIO[ 33 ]</text>
<rect class="it" x="445.3" y="751.2" width="4" height="3.6"/><text x="450.5" y="754.5">Digital</text><circle class="p" cx="443.3" cy="753" r="1.3"/>
<rect class="ia" x="445.3" y="757.2" width="4" height="3.6"/><text x="450.5" y="760.5">Analog (PWM)</text><circle class="p" cx="443.3" cy="759" r="1.3"/>
<text class="r" x="526.5" y="754.5">Out</text><rect class="ir" x="527" y="751.2" width="4.5" height="3.6"/><circle class="p" cx="535" cy="753" r="1.3"/>

<rect class="lb" x="489.3" y="762.5" width="45" height="12"/><rect class="ia" x="490.5" y="764" width="3.6" height="3.4"/><text x="495.5" y="767.2">GPIO[ 34 ]</text>
<text class="r" x="526.5" y="772.5">Out</text><rect class="ir" x="527" y="769.2" width="4.5" height="3.6"/><circle class="p" cx="535" cy="771" r="1.3"/>
<rect class="lb" x="489.3" y="774.5" width="45" height="12"/><rect class="ia" x="490.5" y="775.6" width="3.6" height="3.4"/><text x="495.5" y="778.8">GPIO[ 37 ]</text>
<text class="r" x="526.5" y="784.8">Out</text><rect class="ir" x="527" y="781.5" width="4.5" height="3.6"/><circle class="p" cx="535" cy="783.3" r="1.3"/>
<rect class="lb" x="489.3" y="786.5" width="45" height="12"/><rect class="ia" x="490.5" y="788.3" width="3.6" height="3.4"/><text x="495.5" y="791.5">GPIO[ 38 ]</text>
<text class="r" x="526.5" y="796.8">Out</text><rect class="ir" x="527" y="793.5" width="4.5" height="3.6"/><circle class="p" cx="535" cy="795.3" r="1.3"/>
<rect class="lb" x="489.3" y="798.5" width="45" height="12.5"/><rect class="ia" x="490.5" y="800" width="3.6" height="3.4"/><text x="495.5" y="803.2">GPIO[ 39 ]</text>
<text class="r" x="526.5" y="809.2">Out</text><rect class="ir" x="527" y="805.9" width="4.5" height="3.6"/><circle class="p" cx="535" cy="807.7" r="1.3"/>

<!-- SPI -->
<rect class="lb" x="444.3" y="814.3" width="35.7" height="35.7"/>
<text x="446" y="818.4">SPI Channels</text>
<rect class="lb" x="444.8" y="819.8" width="34.7" height="15.5"/>
<rect class="ir" x="445.5" y="820.6" width="3.4" height="3.4"/><text x="450" y="823.8">SPI[ 0 ]</text>
<rect class="iy" x="445.3" y="829.9" width="4" height="3.6"/><text x="450" y="833.2">In</text><circle class="p" cx="443.3" cy="831.7" r="1.3"/>
<rect class="lb" x="444.8" y="835.5" width="34.7" height="14.3"/>
<rect class="ir" x="445.5" y="836.6" width="3.4" height="3.4"/><text x="450" y="839.8">SPI[ 1 ]</text>
<rect class="iy" x="445.3" y="842.5" width="4" height="3.6"/><text x="450" y="845.8">In</text><circle class="p" cx="443.3" cy="844.3" r="1.3"/>
</svg>
</body></html>
